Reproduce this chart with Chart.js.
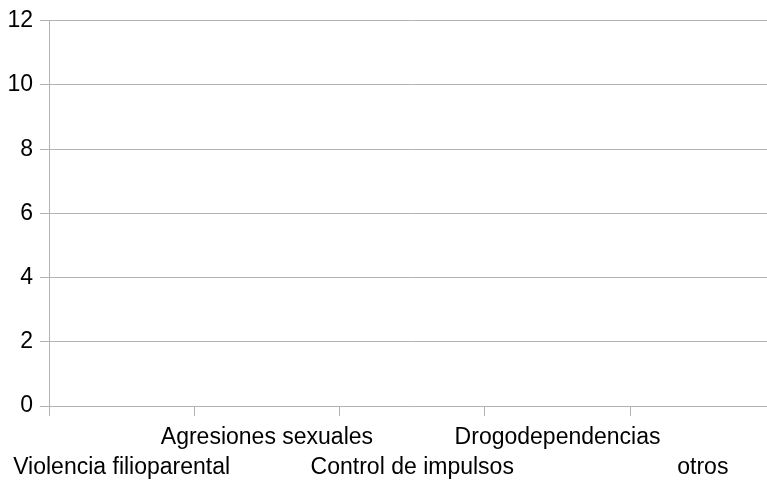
<!DOCTYPE html>
<html>
<head>
<meta charset="utf-8">
<script src="https://cdn.jsdelivr.net/npm/chart.js@4"></script>
<style>
  html, body { margin:0; padding:0; background:#fff; overflow:hidden; }
  #wrap { width:790px; height:480px; }
</style>
</head>
<body>
<div id="wrap"><canvas id="c" width="790" height="480"></canvas></div>
<script>
'use strict';
// categories, staggered on two rows like the original
const CATEGORIES = ['Violencia filioparental', 'Agresiones sexuales', 'Control de impulsos', 'Drogodependencias', 'otros'];
const VALUES = [0, 0, 0, 0, 0];
const Y_MIN = 0, Y_MAX = 12, Y_STEP = 2;

const GRID = '#b3b3b3';
const FONT = { family: '"Liberation Sans", Arial, sans-serif', size: 23, lineHeight: 1.3 };

const labels = CATEGORIES.map((c, i) => i % 2 ? [c, ''] : ['', c]);

new Chart(document.getElementById('c').getContext('2d'), {
  type: 'bar',
  data: {
    labels,
    datasets: [{ data: VALUES, backgroundColor: '#004586', borderWidth: 0 }]
  },
  options: {
    responsive: false,
    animation: false,
    layout: { padding: { top: 20.5, right: 14.5, left: 0, bottom: 0 } },
    plugins: { legend: { display: false }, tooltip: { enabled: false } },
    scales: {
      x: {
        grid: { offset: true, drawOnChartArea: false, drawTicks: true, tickLength: 10, color: GRID },
        border: { color: GRID },
        ticks: { autoSkip: false, maxRotation: 0, minRotation: 0, color: '#000', font: FONT, padding: 7 },
        afterFit: s => { s.height = 74; }
      },
      y: {
        min: Y_MIN, max: Y_MAX,
        grid: { color: GRID, tickLength: 9 },
        border: { color: GRID },
        ticks: { stepSize: Y_STEP, color: '#000', font: { ...FONT, lineHeight: 1.2 }, padding: 7 },
        afterFit: s => { s.width = 49; }
      }
    }
  }
});
</script>
</body>
</html>
